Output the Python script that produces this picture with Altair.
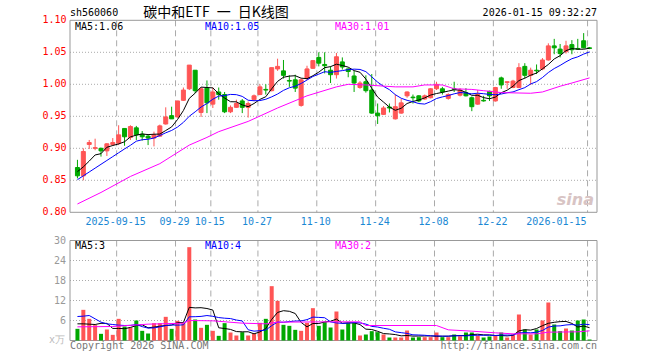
import altair as alt
import pandas as pd

# ---------------- data ----------------
opens = [0.870, 0.857, 0.906, 0.900, 0.900, 0.896, 0.906, 0.908, 0.931, 0.917,
         0.932, 0.922, 0.919, 0.916, 0.919, 0.938, 0.951, 0.949, 0.975, 0.993,
         1.022, 0.956, 0.994, 0.969, 0.988, 0.984, 0.957, 0.964, 0.974, 0.964,
         0.976, 0.984, 0.992, 0.990, 1.024, 1.021, 1.006, 1.007, 0.967, 1.009,
         1.025, 1.042, 1.031, 1.022, 1.015, 1.035, 1.024, 1.013, 0.995, 1.004,
         0.991, 0.955, 0.953, 0.9645, 0.946, 0.955, 0.982, 0.980, 0.982, 0.977,
         0.979, 0.993, 0.993, 0.978, 0.993, 0.983, 0.987, 0.979, 0.969, 0.975,
         0.989, 0.974, 1.010, 1.003, 0.995, 0.995, 1.028, 1.014, 1.022, 1.024,
         1.038, 1.060, 1.055, 1.051, 1.062, 1.056, 1.068, 1.057]
highs = [0.882, 0.900, 0.913, 0.915, 0.901, 0.908, 0.916, 0.936, 0.931, 0.936,
         0.935, 0.927, 0.922, 0.926, 0.937, 0.964, 0.965, 0.974, 0.995, 1.030,
         1.022, 0.995, 1.006, 0.995, 0.995, 0.988, 0.967, 0.976, 0.977, 0.973,
         0.984, 1.000, 1.000, 1.026, 1.040, 1.038, 1.014, 1.015, 1.009, 1.029,
         1.038, 1.050, 1.050, 1.028, 1.049, 1.042, 1.025, 1.021, 1.005, 1.014,
         1.016, 0.970, 0.966, 0.970, 0.984, 0.977, 0.989, 0.984, 0.983, 0.984,
         0.994, 1.004, 0.996, 0.986, 1.004, 0.994, 0.994, 0.981, 0.991, 0.982,
         0.990, 0.996, 1.012, 1.004, 1.007, 1.033, 1.033, 1.026, 1.031, 1.041,
         1.064, 1.071, 1.063, 1.068, 1.069, 1.071, 1.080, 1.058]
lows = [0.853, 0.850, 0.899, 0.897, 0.887, 0.888, 0.904, 0.905, 0.904, 0.913,
        0.913, 0.912, 0.905, 0.903, 0.918, 0.937, 0.946, 0.948, 0.974, 0.991,
        0.986, 0.949, 0.955, 0.963, 0.976, 0.955, 0.955, 0.963, 0.955, 0.948,
        0.974, 0.983, 0.984, 0.989, 1.021, 1.009, 0.996, 0.988, 0.965, 1.007,
        1.024, 1.028, 1.017, 1.002, 1.009, 1.023, 1.011, 0.988, 0.993, 0.987,
        0.954, 0.938, 0.952, 0.956, 0.945, 0.954, 0.979, 0.970, 0.972, 0.976,
        0.978, 0.991, 0.984, 0.976, 0.988, 0.981, 0.981, 0.958, 0.968, 0.973,
        0.974, 0.973, 0.993, 0.993, 0.994, 0.994, 1.009, 0.999, 1.016, 1.022,
        1.037, 1.047, 1.042, 1.048, 1.047, 1.054, 1.056, 1.055]
closes = [0.857, 0.895, 0.909, 0.901, 0.896, 0.907, 0.909, 0.921, 0.918, 0.934,
          0.921, 0.918, 0.916, 0.921, 0.935, 0.949, 0.946, 0.974, 0.991, 1.030,
          0.990, 0.993, 0.971, 0.988, 0.984, 0.957, 0.964, 0.970, 0.964, 0.970,
          0.982, 0.996, 0.991, 1.026, 1.028, 1.014, 1.005, 0.994, 1.007, 1.024,
          1.037, 1.033, 1.029, 1.015, 1.043, 1.027, 1.020, 1.002, 1.002, 0.990,
          0.955, 0.951, 0.963, 0.963, 0.965, 0.971, 0.988, 0.979, 0.974, 0.982,
          0.993, 1.000, 0.988, 0.984, 0.992, 0.991, 0.982, 0.965, 0.984, 0.974,
          0.982, 0.995, 0.999, 1.004, 1.005, 1.026, 1.014, 1.022, 1.021, 1.038,
          1.060, 1.057, 1.048, 1.060, 1.054, 1.055, 1.057, 1.056]
volumes = [3.5, 9.2, 6.5, 4.6, 2.0, 3.3, 1.7, 6.5, 4.2, 3.9,
           6.0, 2.9, 2.1, 5.2, 5.2, 7.1, 3.5, 5.9, 5.2, 28.0,
           6.3, 3.8, 4.7, 2.9, 1.4, 5.2, 2.4, 1.5, 2.5, 1.5,
           2.1, 5.3, 6.5, 16.3, 11.9, 4.7, 4.4, 3.2, 2.9, 5.3,
           9.7, 4.4, 5.5, 3.9, 8.7, 3.3, 5.2, 5.2, 1.5, 1.8,
           2.8, 2.5, 1.8, 0.9, 0.9, 0.9, 3.0, 0.9, 1.0, 1.0,
           1.0, 2.4, 1.0, 1.0, 1.8, 1.3, 2.4, 2.4, 1.5, 0.9,
           1.2, 1.5, 2.4, 0.9, 1.8, 7.8, 3.3, 1.8, 3.3, 6.0,
           11.4, 4.8, 2.8, 3.6, 3.0, 6.0, 6.3, 0.3]

# moving-average values before enough in-window history exists
ma5_head = [0.8635, 0.871, 0.880, 0.8896]
ma10_head = [0.851, 0.857, 0.863, 0.869, 0.875, 0.881, 0.887, 0.893, 0.899]
ma30_idx = [0, 4, 9, 14, 19, 22, 24, 29, 34, 39, 44, 46, 49, 54, 57, 59, 62, 64,
            67, 69, 72, 77, 79, 82, 84, 87]
ma30_val = [0.813, 0.831, 0.856, 0.876, 0.905, 0.917, 0.926, 0.942, 0.963, 0.982,
            0.996, 1.000, 0.999, 0.996, 0.996, 0.999, 0.999, 0.993, 0.992, 0.990,
            0.987, 0.986, 0.988, 0.997, 1.002, 1.010]
vma5_head = [5.0, 5.0, 4.9, 4.8]
vma10_head = [7.2, 7.3, 7.5, 6.5, 5.5, 5.0, 4.8, 4.6, 4.5]
vma30_idx = [0, 6, 12, 18, 19, 23, 28, 32, 34, 43, 48, 49, 61, 63, 67, 71, 74, 78, 80, 85, 87]
vma30_val = [4.1, 4.2, 4.9, 5.2, 6.0, 5.9, 5.2, 5.0, 5.5, 5.6, 5.6, 4.5, 4.5, 3.2, 2.8,
             2.3, 2.0, 2.0, 2.5, 2.6, 2.9]

tick_idx = [7, 17, 23, 31, 41, 51, 61, 71, 87]
tick_labels = ["2025-09-15", "09-29", "10-15", "10-27", "11-10", "11-24",
               "12-08", "12-22", "2026-01-15"]
price_ticks = [0.80, 0.85, 0.90, 0.95, 1.00, 1.05, 1.10]
vol_ticks = [6, 12, 18, 24, 30]

# ---------------- derived tables ----------------
n = len(closes)
c = pd.Series(closes)
ma5 = c.rolling(5).mean().tolist()
ma5[:4] = ma5_head
ma10 = c.rolling(10).mean().tolist()
ma10[:9] = ma10_head
v = pd.Series(volumes)
vma5 = v.rolling(5).mean().tolist()
vma5[:4] = vma5_head
vma10 = v.rolling(10).mean().tolist()
vma10[:9] = vma10_head

df = pd.DataFrame({
    "i": list(range(n)), "open": opens, "high": highs, "low": lows,
    "close": closes, "vol": volumes, "ma5": ma5, "ma10": ma10,
    "vma5": vma5, "vma10": vma10,
})
df["dir"] = ["up" if cl >= op else "down" for op, cl in zip(opens, closes)]
ma30_df = pd.DataFrame({"i": ma30_idx, "v": ma30_val})
vma30_df = pd.DataFrame({"i": vma30_idx, "v": vma30_val})
ticks_df = pd.DataFrame({"i": tick_idx, "label": tick_labels})
pt_df = pd.DataFrame({"p": price_ticks, "label": [f"{p:.2f}" for p in price_ticks]})
vt_df = pd.DataFrame({"v": vol_ticks, "label": [str(t) for t in vol_ticks]})
one = pd.DataFrame({"k": [0]})

W, H = 527, 321
RED, GREEN = "#ff5555", "#00a800"
GRID = "#aaaaaa"
FONT = "DejaVu Sans Mono"

xs = alt.Scale(domain=[-2.5 / 6, (W - 2.5) / 6], nice=False, zero=False)
ps = alt.Scale(domain=[0.59891, 1.10047], nice=False, zero=False)
vs = alt.Scale(domain=[-0.15, 96.15], nice=False, zero=False)
cs = alt.Scale(domain=["up", "down"], range=[RED, GREEN])


def X(f="i"):
    return alt.X(f"{f}:Q", scale=xs, axis=None)


def PY(f):
    return alt.Y(f"{f}:Q", scale=ps, axis=None)


def VY(f):
    return alt.Y(f"{f}:Q", scale=vs, axis=None)


base = alt.Chart(df)

# ---- price panel ----
p_hgrid = alt.Chart(pt_df[(pt_df.p > 0.81) & (pt_df.p < 1.09)]).mark_rule(
    color=GRID, strokeDash=[1, 2], strokeWidth=1).encode(
    y=PY("p"), x=alt.value(0), x2=alt.value(W))
p_vgrid = alt.Chart(ticks_df).mark_rule(color=GRID, strokeDash=[6, 4], xOffset=-2).encode(
    x=X(), y=alt.value(0.3), y2=alt.value(192.3))
p_frame = alt.Chart(one).mark_rect(fillOpacity=0, stroke="#999999", strokeWidth=1).encode(
    x=alt.value(0), x2=alt.value(W), y=alt.value(0.3), y2=alt.value(192.3))
wick = base.mark_rule(strokeWidth=1).encode(
    x=X(), y=PY("low"), y2=alt.Y2("high"),
    color=alt.Color("dir:N", scale=cs, legend=None))
body = base.mark_bar(size=4, strokeWidth=1).encode(
    x=X(), y=PY("open"), y2=alt.Y2("close"),
    fill=alt.Fill("dir:N", scale=cs, legend=None),
    stroke=alt.Stroke("dir:N", scale=cs, legend=None))
l_ma5 = base.mark_line(color="#000000", strokeWidth=1).encode(x=X(), y=PY("ma5"))
l_ma10 = base.mark_line(color="#0000ff", strokeWidth=1).encode(x=X(), y=PY("ma10"))
l_ma30 = alt.Chart(ma30_df).mark_line(color="#ff00ff", strokeWidth=1).encode(x=X(), y=PY("v"))
p_labels = alt.Chart(pt_df).mark_text(
    align="right", baseline="middle", font=FONT, fontSize=10, color="#ff0000").encode(
    y=PY("p"), x=alt.value(-3.5), text="label:N")

price_layer = alt.layer(p_hgrid, p_vgrid, p_frame, wick, body, l_ma5, l_ma10, l_ma30, p_labels)

# ---- volume panel ----
v_hgrid = alt.Chart(vt_df[vt_df.v < 30]).mark_rule(
    color=GRID, strokeDash=[1, 2], strokeWidth=1).encode(
    y=VY("v"), x=alt.value(0), x2=alt.value(W))
v_vgrid = alt.Chart(ticks_df).mark_rule(color=GRID, strokeDash=[6, 4], xOffset=-2).encode(
    x=X(), y=alt.value(220.5), y2=alt.value(320.5))
v_frame = alt.Chart(one).mark_rect(fillOpacity=0, stroke="#999999", strokeWidth=1).encode(
    x=alt.value(0), x2=alt.value(W), y=alt.value(220.5), y2=alt.value(320.5))
vbar = base.mark_bar(size=4, orient="vertical").encode(
    x=X(), y=VY("vol"), y2=alt.datum(0),
    color=alt.Color("dir:N", scale=cs, legend=None))
v_ma5 = base.mark_line(color="#000000", strokeWidth=1).encode(x=X(), y=VY("vma5"))
v_ma10 = base.mark_line(color="#0000ff", strokeWidth=1).encode(x=X(), y=VY("vma10"))
v_ma30 = alt.Chart(vma30_df).mark_line(color="#ff00ff", strokeWidth=1).encode(x=X(), y=VY("v"))
v_labels = alt.Chart(vt_df).mark_text(
    align="right", baseline="middle", font=FONT, fontSize=10, color="#999999").encode(
    y=VY("v"), x=alt.value(-4), text="label:N")

vol_layer = alt.layer(v_hgrid, v_vgrid, v_frame, vbar, v_ma5, v_ma10, v_ma30, v_labels)


# ---- texts ----
def txt(s, x, y, color="#000000", align="left", size=10, font=FONT, **kw):
    return alt.Chart(one).mark_text(
        text=s, align=align, baseline="middle", color=color, fontSize=size, font=font, **kw
    ).encode(x=alt.value(x), y=alt.value(y))


date_lbl = alt.Chart(ticks_df[ticks_df.i < 87]).mark_text(
    align="center", baseline="middle", font=FONT, fontSize=10, color="#1a88d4", xOffset=-3).encode(
    x=X(), y=alt.value(201.5), text="label:N")
date_last = alt.Chart(ticks_df[ticks_df.i == 87]).mark_text(
    align="right", baseline="middle", font=FONT, fontSize=10, color="#1a88d4", xOffset=-3).encode(
    x=X(), y=alt.value(201.5), text="label:N")

texts = [
    txt("sh560060", 0, -7),
    txt("碳中和ETF\u2002一\u2002日K线图", 146, -7, align="center", size=14,
        font="Noto Sans CJK SC"),
    txt("2026-01-15 09:32:27", W, -7, align="right"),
    txt(f"MA5:{ma5[-1]:.2f}", 5, 7),
    txt(f"MA10:{ma10[-1]:.2f}", 135, 7, color="#0000ff"),
    txt(f"MA30:{ma30_val[-1]:.2f}", 265, 7, color="#ff00ff"),
    txt(f"MA5:{int(vma5[-1])}", 5, 226),
    txt(f"MA10:{int(vma10[-1])}", 135, 226, color="#0000ff"),
    txt(f"MA30:{int(vma30_val[-1])}", 265, 226, color="#ff00ff"),
    txt("x万", -21, 320, color="#bbbbbb"),
    txt("Copyright 2026 SINA.COM", 0, 326, color="#777777"),
    txt("http://finance.sina.com.cn", W, 326, color="#777777", align="right"),
    txt("sina", 524, 180, color="#d8c4c4", align="right", size=16, font="DejaVu Sans",
        fontStyle="italic", fontWeight="bold"),
    date_lbl, date_last,
]

chart = alt.layer(price_layer, vol_layer, *texts).resolve_scale(
    y="independent", color="independent", fill="independent", stroke="independent"
).properties(
    width=W, height=H,
    autosize=alt.AutoSizeParams(type="none"),
    padding={"left": 70, "top": 20, "right": 63, "bottom": 19},
    background="#ffffff",
).configure_view(stroke=None)

chart.save("out.html", embed_options={"renderer": "svg", "actions": False})
